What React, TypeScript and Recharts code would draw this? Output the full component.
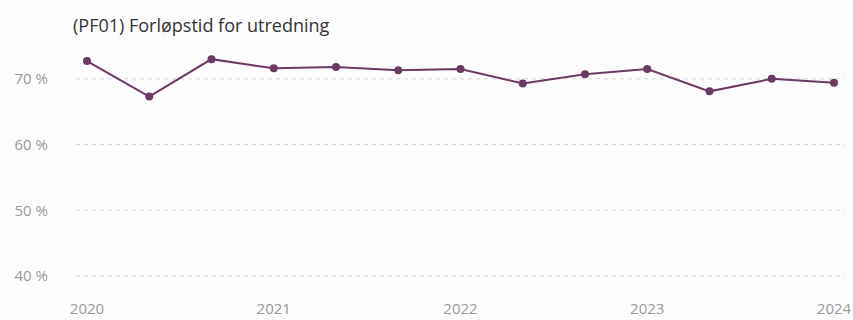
import { LineChart, Line, XAxis, YAxis, ReferenceLine } from 'recharts';

// Tertials, three per year; the axis only names the first of each year
const periods = [
  '2020-1', '2020-2', '2020-3',
  '2021-1', '2021-2', '2021-3',
  '2022-1', '2022-2', '2022-3',
  '2023-1', '2023-2', '2023-3',
  '2024-1',
];
const shares = [72.7, 67.3, 73.0, 71.6, 71.8, 71.3, 71.5, 69.3, 70.7, 71.5, 68.1, 70.0, 69.4];
const yearTicks = ['2020-1', '2021-1', '2022-1', '2023-1', '2024-1'];
const yTicks = [40, 50, 60, 70];

const title = '(PF01) Forløpstid for utredning';
const lineColor = '#6a3a63';
const tickColor = '#9a9a9a';
const font = '"Open Sans", sans-serif';

export default function App() {
  const data = periods.map((p, i) => ({ period: p, value: shares[i] }));

  return (
    <div style={{ position: 'absolute', left: 0, top: 0, width: 853, height: 320, background: '#fdfdfd', fontFamily: font }}>
      <div style={{ position: 'absolute', left: 73, top: 13, fontSize: 18, lineHeight: '24px', color: '#333', whiteSpace: 'nowrap' }}>
        {title}
      </div>
      <LineChart width={853} height={320} data={data} margin={{ top: 46, right: 8, bottom: 0, left: 0 }}>
        {/* dashed guide lines at the y ticks only */}
        {yTicks.map((t) => (
          <ReferenceLine key={t} y={t} stroke="#d4d4d4" strokeDasharray="4 4" />
        ))}
        <XAxis
          dataKey="period"
          ticks={yearTicks}
          tickFormatter={(p: string) => p.slice(0, 4)}
          axisLine={false}
          tickLine={false}
          tickSize={0}
          tickMargin={27}
          height={44}
          padding={{ left: 11, right: 11 }}
          interval={0}
          tick={{ fill: tickColor, fontSize: 15, fontFamily: font }}
        />
        <YAxis
          domain={[40, 75]}
          ticks={yTicks}
          tickFormatter={(v: number) => `${v} %`}
          axisLine={false}
          tickLine={false}
          tickSize={0}
          tickMargin={28}
          width={76}
          tick={{ fill: tickColor, fontSize: 15, fontFamily: font }}
        />
        <Line
          type="linear"
          dataKey="value"
          stroke={lineColor}
          strokeWidth={2}
          dot={{ r: 4, fill: lineColor, stroke: lineColor, strokeWidth: 0 }}
          isAnimationActive={false}
        />
      </LineChart>
    </div>
  );
}
